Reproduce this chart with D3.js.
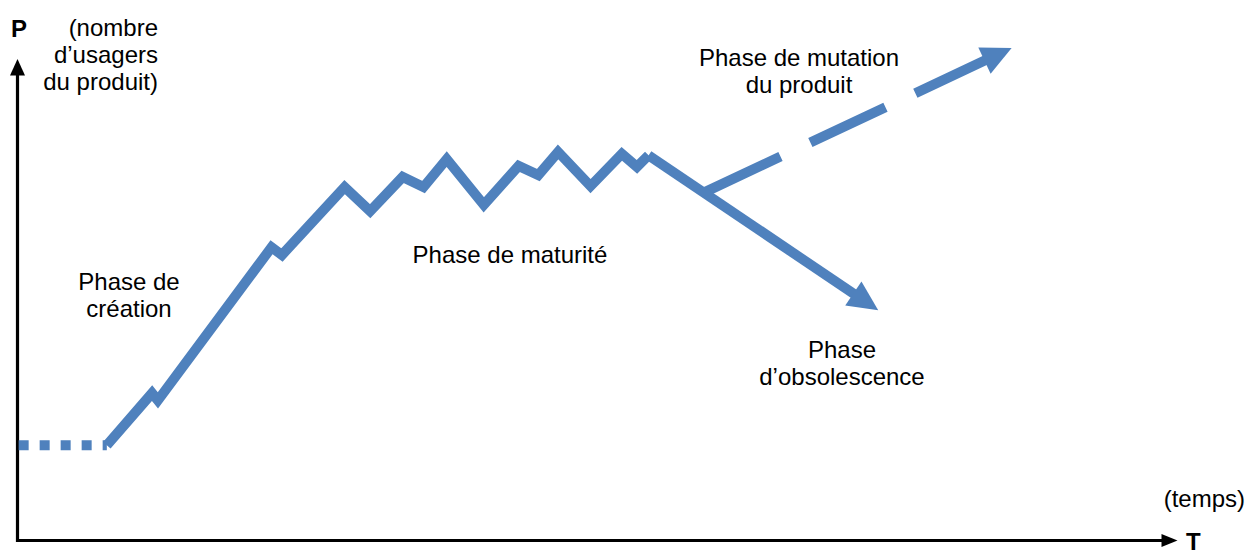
<!DOCTYPE html>
<html><head><meta charset="utf-8">
<script src="https://cdn.jsdelivr.net/npm/d3@7"></script>
<style>html,body{margin:0;padding:0;background:#fff;} svg{display:block;font-family:"Liberation Sans",Arial,sans-serif;}</style>
</head><body><svg id="c" width="1247" height="550"></svg>
<script>
// ---- data (time units, users units) ----
const preT = [0.1, 7.7];
const preP = [19.8, 19.8];
const mainT = [7.7, 11.6, 12.1, 21.9, 22.8, 28.2, 30.4, 33.2, 35.0, 37.0, 40.2, 43.2, 44.9, 46.6, 49.4, 52.1, 53.4, 54.4];
const mainP = [19.8, 30.6, 29.1, 60.9, 59.3, 73.4, 68.4, 75.5, 73.4, 79.2, 69.7, 77.8, 75.9, 80.7, 73.6, 80.3, 77.6, 80.0];
const declineT = [54.4, 74.2];
const declineP = [80.0, 47.8];
const mutationT = [59.3, 85.7];
const mutationP = [72.4, 102.3];
const phaseLabels = [
  ["Phase de", "création"],
  ["Phase de maturité"],
  ["Phase de mutation", "du produit"],
  ["Phase", "d\u2019obsolescence"]
];
const axisLabels = ["P", "(nombre", "d\u2019usagers", "du produit)", "(temps)", "T"];

const BLUE = "#4F81BD";
const svg = d3.select("#c");
const x = d3.scaleLinear().domain([0, 100]).range([17.5, 1177.5]);
const y = d3.scaleLinear().domain([0, 100]).range([540.5, 59]);
const zip = (a, b) => a.map((v, i) => [v, b[i]]);
const line = d3.line().x(d => x(d[0])).y(d => y(d[1]));

// axes
svg.append("line").attr("x1", x(0)).attr("x2", x(0)).attr("y1", y(0) + 1.5).attr("y2", y(100) + 14)
  .attr("stroke", "#000").attr("stroke-width", 3.2);
svg.append("path").attr("d", `M${x(0)},${y(100)} L${x(0) - 7.5},${y(100) + 16.5} L${x(0) + 7.5},${y(100) + 16.5}Z`).attr("fill", "#000");
svg.append("line").attr("x1", x(0) - 1.5).attr("x2", x(100) - 14).attr("y1", y(0)).attr("y2", y(0))
  .attr("stroke", "#000").attr("stroke-width", 3.2);
svg.append("path").attr("d", `M${x(100)},${y(0)} L${x(100) - 16},${y(0) - 6.5} L${x(100) - 16},${y(0) + 6.5}Z`).attr("fill", "#000");

// arrow helper
function arrowLine(pts, dash) {
  const n = pts.length;
  const a = [x(pts[n - 2][0]), y(pts[n - 2][1])], b = [x(pts[n - 1][0]), y(pts[n - 1][1])];
  const dx = b[0] - a[0], dy = b[1] - a[1], L = Math.hypot(dx, dy);
  const ux = dx / L, uy = dy / L, len = 30, hw = 14.5;
  const bc = [b[0] - ux * len, b[1] - uy * len];
  const px = pts.map(p => [x(p[0]), y(p[1])]);
  px[n - 1] = [bc[0] + ux * 2, bc[1] + uy * 2];
  const p = svg.append("path").attr("d", d3.line()(px)).attr("fill", "none").attr("stroke", BLUE)
    .attr("stroke-width", 10).attr("stroke-linejoin", "miter");
  if (dash) p.attr("stroke-dasharray", dash);
  svg.append("path").attr("d", `M${b[0]},${b[1]} L${bc[0] - uy * hw},${bc[1] + ux * hw} L${bc[0] + uy * hw},${bc[1] - ux * hw}Z`)
    .attr("fill", BLUE);
}

// dotted beginning
svg.append("path").attr("d", line(zip(preT, preP))).attr("fill", "none").attr("stroke", BLUE)
  .attr("stroke-width", 10).attr("stroke-dasharray", "10,11");
// main zigzag
svg.append("path").attr("d", line(zip(mainT, mainP))).attr("fill", "none").attr("stroke", BLUE)
  .attr("stroke-width", 10).attr("stroke-linejoin", "miter").attr("stroke-miterlimit", 10);
arrowLine(zip(mutationT, mutationP), "83,33");
arrowLine(zip(declineT, declineP));

// texts
const fs = 24;
function txt(lines, cx, by, anchor, lh, bold) {
  const t = svg.append("text").attr("font-size", fs).attr("fill", "#000").attr("text-anchor", anchor)
    .attr("font-weight", bold ? "bold" : "normal");
  lines.forEach((s, i) => t.append("tspan").attr("x", cx).attr("y", by + i * lh).text(s));
}
txt(phaseLabels[0], 129, 290, "middle", 27);
txt(phaseLabels[1], 510, 263, "middle", 27);
txt(phaseLabels[2], 799, 66, "middle", 27);
txt(phaseLabels[3], 842, 358, "middle", 27);
txt([axisLabels[0]], 11, 37, "start", 0, true);
txt(axisLabels.slice(1, 4), 158, 36, "end", 27);
txt([axisLabels[4]], 1245, 507, "end", 0);
txt([axisLabels[5]], 1186, 550, "start", 0, true);
</script></body></html>
